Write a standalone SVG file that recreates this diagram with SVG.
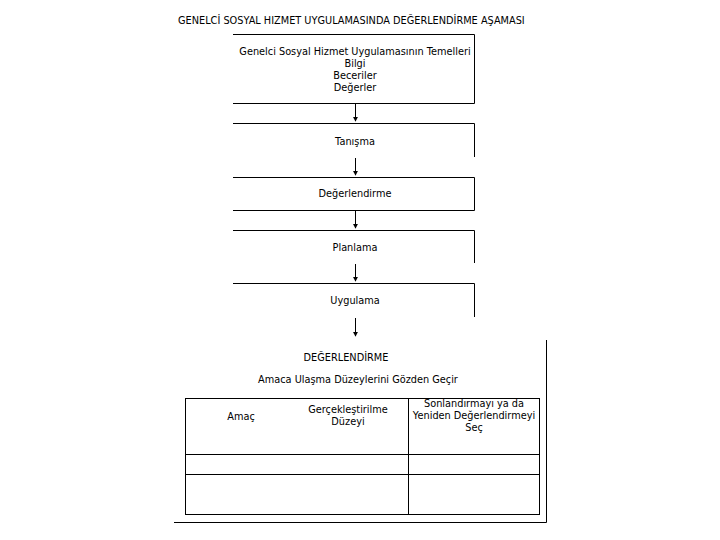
<svg xmlns="http://www.w3.org/2000/svg" width="720" height="540" viewBox="0 0 720 540">
<style>
text{font-family:"DejaVu Sans","Liberation Sans",sans-serif;font-size:9.75px;fill:#000;text-anchor:middle}
.ln{stroke:#000;stroke-width:1;fill:none}
</style>
<defs>
<marker id="ah" viewBox="0 0 6 6" refX="5" refY="3" markerWidth="5" markerHeight="5" orient="auto" markerUnits="userSpaceOnUse">
<path d="M0,0 L6,3 L0,6 z" fill="#000"/>
</marker>
</defs>
<rect width="720" height="540" fill="#fff"/>
<text id="title" x="178" y="24" style="text-anchor:start">GENELCİ SOSYAL HIZMET UYGULAMASINDA DEĞERLENDİRME AŞAMASI</text>
<g id="n1">
<path class="ln" d="M233,34.5 H474.5 V103.5 H233"/>
<text x="355" y="55">Genelci Sosyal Hizmet Uygulamasının Temelleri</text>
<text x="355" y="67">Bilgi</text>
<text x="355" y="79">Beceriler</text>
<text x="355" y="91">Değerler</text>
</g>
<g id="n2">
<path class="ln" d="M233,123.5 H474.5 V157"/>
<text x="355" y="145">Tanışma</text>
</g>
<g id="n3">
<path class="ln" d="M233,177.5 H474.5 V210.5 H233"/>
<text x="355" y="197">Değerlendirme</text>
</g>
<g id="n4">
<path class="ln" d="M233,230.5 H474.5 V263"/>
<text x="355" y="251">Planlama</text>
</g>
<g id="n5">
<path class="ln" d="M233,283.5 H474.5 V317"/>
<text x="355" y="304">Uygulama</text>
</g>
<g id="n6">
<path class="ln" d="M546.5,340 V522.5 H174"/>
<text x="346" y="361">DEĞERLENDİRME</text>
<text x="358" y="383">Amaca Ulaşma Düzeylerini Gözden Geçir</text>
<rect class="ln" x="185.5" y="398.5" width="354" height="116"/>
<path class="ln" d="M408.5,398.5 V514.5 M185.5,454.5 H539.5 M185.5,474.5 H539.5"/>
<text x="241" y="420">Amaç</text>
<text x="348" y="413">Gerçekleştirilme</text>
<text x="348" y="425">Düzeyi</text>
<text x="474" y="407">Sonlandırmayı ya da</text>
<text x="474" y="419">Yeniden Değerlendirmeyi</text>
<text x="474" y="431">Seç</text>
</g>
<g id="connectors">
<path class="ln" d="M355.5,104 V121" marker-end="url(#ah)"/>
<path class="ln" d="M355.5,158 V175" marker-end="url(#ah)"/>
<path class="ln" d="M355.5,211 V228" marker-end="url(#ah)"/>
<path class="ln" d="M355.5,264 V281" marker-end="url(#ah)"/>
<path class="ln" d="M355.5,318 V336" marker-end="url(#ah)"/>
</g>
</svg>
